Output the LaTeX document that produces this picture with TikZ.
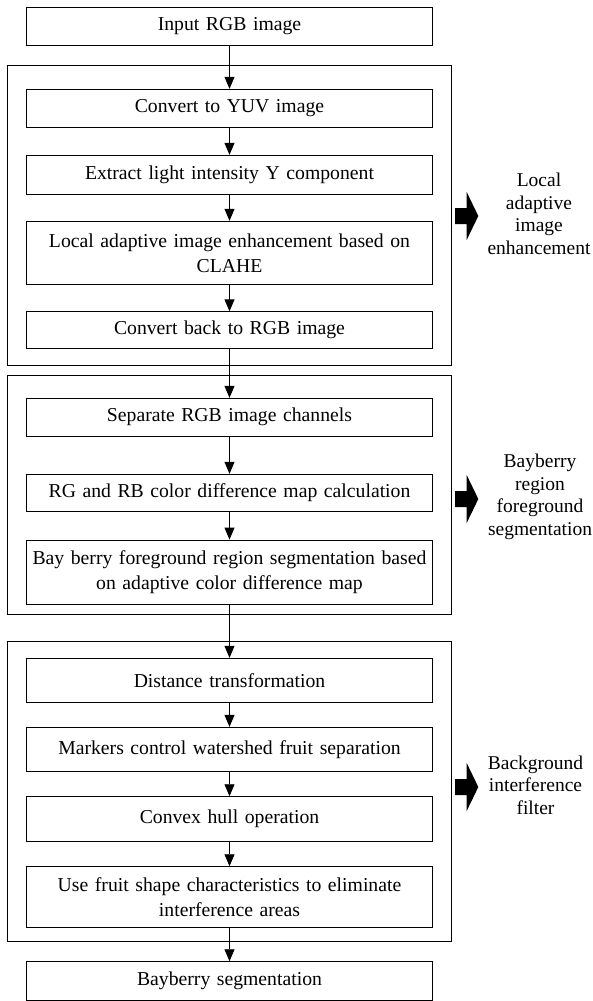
\documentclass[tikz,border=0pt]{standalone}
\usepackage{fontspec}
\setmainfont{Liberation Serif}
\usetikzlibrary{arrows.meta,positioning,fit}
\tikzset{
	every path/.style = {line width=0.9pt},
	stepbox/.style = {draw, rectangle, minimum width=405.6pt, text width=400pt, align=center, inner sep=0pt, font=\fontsize{19.7}{25}\selectfont},
	stage/.style = {draw, rectangle, inner sep=0pt},
	side/.style = {align=center, inner sep=0pt, font=\fontsize{19.5}{22.6}\selectfont}
}
\newcommand{\sidearrow}[1]{\fill (455,#1-8) -- (466.7,#1-8) -- (466.7,#1-24) -- (478.3,#1) -- (466.7,#1+24) -- (466.7,#1+8) -- (455,#1+8) -- cycle;}

\begin{document}
\begin{tikzpicture}[x=1pt, y=-1pt, flow/.style={-{Triangle[length=12pt,width=10pt]}}]
	\useasboundingbox (0,0) rectangle (593,1001);
	% stage frames
	\node (stage1) [stage, fit={(7.3,65.7) (451.7,365)}] {};
	\node (stage2) [stage, fit={(7.3,375.7) (451.7,614)}] {};
	\node (stage3) [stage, fit={(7.3,641.7) (451.7,941.7)}] {};
	% steps
	\node (in) [stepbox, minimum height=38.4pt] at (229.5,26.5) {Input RGB image};
	\node (yuv) [stepbox, minimum height=38.4pt] at (229.5,108.5) {Convert to YUV image};
	\node (ycomp) [stepbox, minimum height=38.7pt] at (229.5,174.65) {Extract light intensity Y component};
	\node (clahe) [stepbox, minimum height=63.4pt] at (229.5,253) {Local adaptive image enhancement based on\\CLAHE};
	\node (back) [stepbox, minimum height=36.8pt] at (229.5,330.15) {Convert back to RGB image};
	\node (sep) [stepbox, minimum height=37.7pt] at (229.5,417.15) {Separate RGB image channels};
	\node (diff) [stepbox, minimum height=37.4pt] at (229.5,493) {RG and RB color difference map calculation};
	\node (fg) [stepbox, minimum height=64pt] at (229.5,572) {Bay berry foreground region segmentation based\\on adaptive color difference map};
	\node (dist) [stepbox, minimum height=44pt] at (229.5,680.3) {Distance transformation};
	\node (mark) [stepbox, minimum height=44.4pt] at (229.5,749.5) {Markers control watershed fruit separation};
	\node (hull) [stepbox, minimum height=45pt] at (229.5,819.2) {Convex hull operation};
	\node (shape) [stepbox, minimum height=61pt] at (229.5,897.2) {Use fruit shape characteristics to eliminate\\interference areas};
	\node (out) [stepbox, minimum height=38.3pt] at (229.5,980.85) {Bayberry segmentation};
	% flow
	\draw[flow] (in) -- (yuv);
	\draw[flow] (yuv) -- (ycomp);
	\draw[flow] (ycomp) -- (clahe);
	\draw[flow] (clahe) -- (back);
	\draw[flow] (back) -- (sep);
	\draw[flow] (sep) -- (diff);
	\draw[flow] (diff) -- (fg);
	\draw[flow] (fg) -- (dist);
	\draw[flow] (dist) -- (mark);
	\draw[flow] (mark) -- (hull);
	\draw[flow] (hull) -- (shape);
	\draw[flow] (shape) -- (out);
	% stage labels
	\sidearrow{216}
	\sidearrow{499}
	\sidearrow{787}
	\node (lbl1) [side] at (539,214) {Local\\adaptive\\image\\enhancement};
	\node (lbl2) [side] at (540,497) {Bayberry\\region\\foreground\\segmentation};
	\node (lbl3) [side] at (535.5,785) {Background\\interference\\filter};
\end{tikzpicture}
\end{document}
